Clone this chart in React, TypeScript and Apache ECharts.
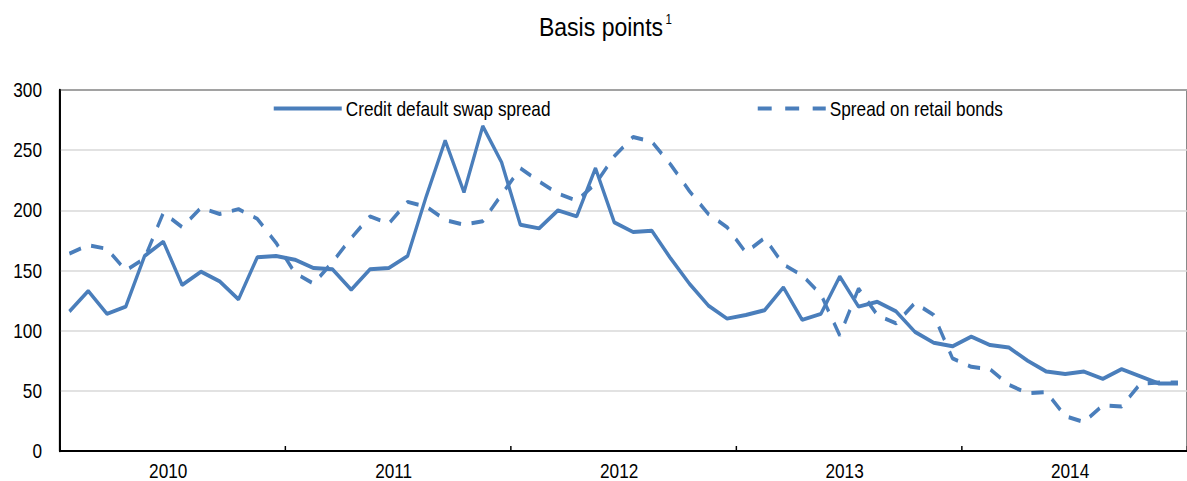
import React, { useEffect, useRef } from "react";
import * as echarts from "echarts";

const years = ["2010", "2011", "2012", "2013", "2014"];
const months = years.flatMap((y) =>
  ["01", "02", "03", "04", "05", "06", "07", "08", "09", "10", "11", "12"].map((m) => `${y}-${m}`)
);

const cdsSpread = [
  116, 133, 114, 120, 162, 174, 138, 149, 141, 126, 161, 162,
  159, 152, 151, 134, 151, 152, 162, 212, 258, 215, 270, 240,
  188, 185, 200, 195, 235, 190, 182, 183, 160, 139, 121, 110,
  113, 117, 136, 109, 114, 145, 120, 124, 116, 99, 90, 87,
  95, 88, 86, 75, 66, 64, 66, 60, 68, 62, 56, 56,
];

const retailSpread = [
  164, 171, 168, 150, 160, 198, 186, 202, 197, 201, 193, 173,
  148, 139, 157, 177, 195, 189, 207, 203, 192, 188, 191, 213,
  235, 224, 214, 208, 222, 245, 261, 257, 238, 216, 197, 186,
  165, 177, 155, 146, 130, 96, 135, 113, 106, 123, 113, 77,
  70, 68, 55, 48, 49, 29, 24, 38, 37, 56, 57, 57,
];

const yTicks = { min: 0, max: 300, interval: 50 };
const seriesNames = ["Credit default swap spread", "Spread on retail bonds"];
const titleText = "Basis points";
const titleNote = "1";

// The reference uses a condensed face; we render in an un-squeezed space and compress horizontally.
const S = 0.82;
const W = 1187;
const H = 481;
const X = (px: number) => px / S;

const FONT = "'Liberation Sans', Arial, sans-serif";
const BLUE = "#4a7ebb";
const LW = 4;

export default function App() {
  const ref = useRef<HTMLDivElement>(null);

  useEffect(() => {
    if (!ref.current) return;
    const chart = echarts.init(ref.current, null, { renderer: "svg" });
    const plotRight = 60 + 5 * 227.67;
    chart.setOption({
      animation: false,
      backgroundColor: "#fff",
      graphic: [
        {
          type: "text",
          x: X(601),
          y: 27,
          scaleX: 1.08,
          style: {
            text: titleText,
            font: `26px ${FONT}`,
            fill: "#000",
            textAlign: "center",
            textVerticalAlign: "middle",
          },
        },
        {
          type: "text",
          x: X(665.5),
          y: 19.5,
          style: {
            text: titleNote,
            font: `14px ${FONT}`,
            fill: "#000",
            textAlign: "left",
            textVerticalAlign: "middle",
          },
        },
      ],
      legend: [
        {
          data: [seriesNames[0]],
          left: X(268),
          top: 93,
          itemWidth: X(68),
          itemHeight: 14,
          itemStyle: { opacity: 0 },
          lineStyle: { width: LW, color: BLUE, type: "solid" },
          textStyle: { fontFamily: FONT, fontSize: 21, color: "#000" },
        },
        {
          data: [seriesNames[1]],
          left: X(752),
          top: 93,
          itemWidth: X(68),
          itemHeight: 14,
          itemStyle: { opacity: 0 },
          lineStyle: { width: LW, color: BLUE, type: [17, 16.5] },
          textStyle: { fontFamily: FONT, fontSize: 21, color: "#000" },
        },
      ],
      grid: {
        left: X(60),
        right: X(W) - X(plotRight),
        top: 90,
        bottom: 28,
        show: true,
        borderColor: "#000",
        borderWidth: 2,
        backgroundColor: "transparent",
      },
      xAxis: {
        type: "category",
        data: months,
        boundaryGap: true,
        axisLine: { lineStyle: { color: "#000", width: 2 } },
        axisTick: {
          show: true,
          inside: true,
          length: 5,
          interval: (idx: number) => idx % 12 === 0,
          lineStyle: { color: "#000", width: 1.8 },
        },
        axisLabel: {
          interval: (idx: number) => idx % 12 === 6,
          formatter: (v: string) => v.slice(0, 4),
          fontFamily: FONT,
          fontSize: 21,
          color: "#000",
          margin: 9,
          padding: [0, 34, 0, 0],
        },
        splitLine: { show: false },
      },
      yAxis: {
        type: "value",
        min: yTicks.min,
        max: yTicks.max,
        interval: yTicks.interval,
        axisLine: { show: true, lineStyle: { color: "#000", width: 2.4 } },
        axisTick: { show: false },
        axisLabel: { fontFamily: FONT, fontSize: 21, color: "#000", margin: X(18) },
        splitLine: { lineStyle: { color: "#d9d9d9", width: 1.5 } },
      },
      series: [
        {
          name: seriesNames[0],
          type: "line",
          data: cdsSpread,
          symbol: "none",
          color: BLUE,
          lineStyle: { color: BLUE, width: LW },
        },
        {
          name: seriesNames[1],
          type: "line",
          data: retailSpread,
          symbol: "none",
          color: BLUE,
          lineStyle: { color: BLUE, width: LW, type: [15, 13] },
        },
      ],
    });
    return () => chart.dispose();
  }, []);

  return (
    <div
      style={{
        position: "absolute",
        left: 0,
        top: 0,
        width: W,
        height: H,
        overflow: "hidden",
        background: "#fff",
      }}
    >
      <div
        ref={ref}
        style={{
          width: X(W),
          height: H,
          transform: `scaleX(${S})`,
          transformOrigin: "0 0",
        }}
      />
    </div>
  );
}
